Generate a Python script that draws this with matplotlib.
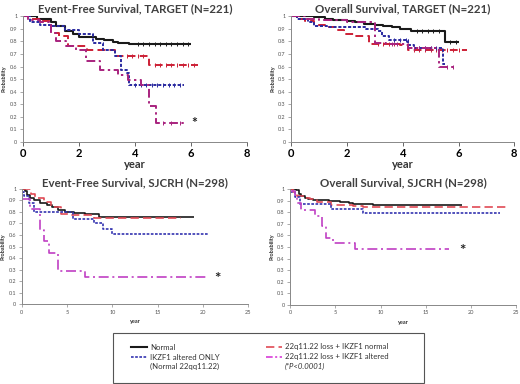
import numpy as np
import matplotlib
matplotlib.use("Agg")
import matplotlib.pyplot as plt
from matplotlib.lines import Line2D

plt.rcParams['font.family'] = ['Lato', 'DejaVu Sans']

# ---- data: Kaplan-Meier steps (time of drop, survival after drop), last follow-up time ----
# TARGET event-free survival
tef_normal_t = [0, 0.5, 1.0, 1.2, 1.5, 1.8, 2.0, 2.6, 2.9, 3.2, 3.4, 3.8]
tef_normal_s = [1.0, 0.98, 0.95, 0.92, 0.88, 0.855, 0.835, 0.82, 0.81, 0.795, 0.785, 0.775]
tef_normal_end = 6.0
tef_normal_cens = [4.1, 4.3, 4.5, 4.7, 4.9, 5.1, 5.3, 5.5, 5.7, 5.9]

tef_loss_t = [0, 0.3, 0.7, 1.0, 1.3, 1.6, 2.3, 3.3, 4.5]
tef_loss_s = [1.0, 0.98, 0.96, 0.87, 0.84, 0.76, 0.73, 0.68, 0.61]
tef_loss_end = 6.25
tef_loss_cens = [3.7, 3.9, 4.1, 4.3, 4.7, 4.9, 5.1, 5.3, 5.5, 5.7, 5.9, 6.1]

tef_ikzf_t = [0, 0.25, 0.6, 1.0, 1.5, 2.0, 2.5, 2.85, 3.3, 3.5, 3.7, 3.8]
tef_ikzf_s = [1.0, 0.95, 0.93, 0.92, 0.89, 0.86, 0.79, 0.73, 0.68, 0.57, 0.55, 0.45]
tef_ikzf_end = 5.75
tef_ikzf_cens = [4.0, 4.2, 4.4, 4.6, 4.8, 5.0, 5.2, 5.4, 5.6]

tef_both_t = [0, 0.2, 0.6, 1.0, 1.2, 1.55, 1.9, 2.25, 2.75, 3.4, 3.75, 4.2, 4.5, 4.75]
tef_both_s = [1.0, 0.97, 0.95, 0.87, 0.80, 0.76, 0.73, 0.64, 0.57, 0.53, 0.49, 0.45, 0.29, 0.15]
tef_both_end = 5.75
tef_both_cens = [5.0, 5.3, 5.6]

# TARGET overall survival
tos_normal_t = [0, 0.8, 1.2, 1.5, 2.0, 2.3, 2.6, 3.0, 3.3, 3.6, 3.9, 4.3, 5.5]
tos_normal_s = [1.0, 0.99, 0.98, 0.97, 0.96, 0.95, 0.94, 0.93, 0.92, 0.91, 0.90, 0.885, 0.795]
tos_normal_end = 6.0
tos_normal_cens = [4.5, 4.7, 4.9, 5.1, 5.3, 5.7, 5.9]

tos_loss_t = [0, 0.2, 0.5, 0.8, 1.2, 1.6, 1.9, 2.3, 2.8, 3.9, 4.2]
tos_loss_s = [1.0, 0.98, 0.96, 0.93, 0.91, 0.89, 0.86, 0.84, 0.78, 0.77, 0.73]
tos_loss_end = 6.3
tos_loss_cens = [3.1, 3.3, 3.5, 3.7, 4.4, 4.6, 4.8, 5.0, 5.2, 5.4, 5.6, 5.8, 6.0]

tos_ikzf_t = [0, 0.2, 0.6, 0.8, 1.3, 2.7, 3.1, 3.25, 3.5, 4.2, 4.4, 5.45]
tos_ikzf_s = [1.0, 0.98, 0.95, 0.92, 0.91, 0.90, 0.88, 0.84, 0.81, 0.77, 0.75, 0.62]
tos_ikzf_end = 5.5
tos_ikzf_cens = [3.7, 3.9, 4.1, 4.6, 4.8, 5.0, 5.2]

tos_both_t = [0, 0.5, 1.0, 2.0, 3.0, 3.4, 4.2, 5.3]
tos_both_s = [1.0, 0.98, 0.97, 0.95, 0.79, 0.78, 0.75, 0.60]
tos_both_end = 5.9
tos_both_cens = [3.6, 3.8, 4.4, 4.6, 4.8, 5.0, 5.6, 5.8]

# SJCRH event-free survival
sef_normal_t = [0, 0.3, 0.6, 0.9, 1.3, 2.0, 2.8, 3.3, 4.0, 4.8, 5.8, 7.0, 8.5]
sef_normal_s = [1.0, 0.98, 0.95, 0.92, 0.90, 0.88, 0.86, 0.84, 0.82, 0.80, 0.79, 0.78, 0.76]
sef_normal_end = 19.0

sef_loss_t = [0, 1.0, 1.5, 2.5, 3.2, 4.3, 5.5, 8.0]
sef_loss_s = [1.0, 0.96, 0.92, 0.89, 0.84, 0.78, 0.77, 0.75]
sef_loss_end = 17.6

sef_ikzf_t = [0, 0.2, 0.8, 1.3, 5.7, 8.0, 9.0, 10.0]
sef_ikzf_s = [0.97, 0.94, 0.88, 0.80, 0.74, 0.70, 0.65, 0.61]
sef_ikzf_end = 20.6

sef_both_t = [0, 0.9, 2.0, 2.5, 3.0, 4.0, 7.0]
sef_both_s = [0.91, 0.83, 0.64, 0.55, 0.44, 0.29, 0.235]
sef_both_end = 20.6

# SJCRH overall survival
sos_normal_t = [0, 0.6, 1.0, 1.2, 1.6, 2.0, 2.5, 4.3, 5.5, 6.5, 7.0, 9.2]
sos_normal_s = [1.0, 0.99, 0.96, 0.94, 0.92, 0.91, 0.905, 0.895, 0.885, 0.875, 0.87, 0.865]
sos_normal_end = 19.0

sos_loss_t = [0, 0.3, 0.8, 1.5, 2.2, 3.0, 4.5, 7.0, 8.0]
sos_loss_s = [1.0, 0.97, 0.94, 0.92, 0.91, 0.89, 0.86, 0.85, 0.84]
sos_loss_end = 24.0

sos_ikzf_t = [0, 0.5, 1.1, 4.5, 8.0]
sos_ikzf_s = [0.97, 0.93, 0.87, 0.83, 0.79]
sos_ikzf_end = 23.2

sos_both_t = [0, 0.5, 0.8, 1.2, 2.8, 3.5, 4.0, 4.7, 7.2]
sos_both_s = [0.98, 0.95, 0.88, 0.82, 0.77, 0.68, 0.58, 0.53, 0.48]
sos_both_end = 17.5

labels = ["Normal", "IKZF1 altered ONLY",
          "22q11.22 loss + IKZF1 normal", "22q11.22 loss + IKZF1 altered"]
label_extra = ["(Normal 22qq11.22)", "(*P<0.0001)"]
prob_ticks = [0, 0.1, 0.2, 0.3, 0.4, 0.5, 0.6, 0.7, 0.8, 0.9, 1]
prob_labels = ["0", "0.1", "0.2", "0.3", "0.4", "0.5", "0.6", "0.7", "0.8", "0.9", "1"]

# ---- styles ----
tgt = {
    'normal': dict(color='#1a1a1a', lw=1.5, ls='-'),
    'ikzf': dict(color='#2a2aa0', lw=1.4, ls=(0, (1.6, 0.9))),
    'loss': dict(color='#cc1f35', lw=1.4, ls=(0, (4, 2.2))),
    'both': dict(color='#a8227e', lw=1.4, ls=(0, (4.5, 1.8, 1.2, 1.8))),
}
sj = {
    'normal': dict(color='#1a1a1a', lw=1.2, ls='-'),
    'ikzf': dict(color='#3434b0', lw=1.2, ls=(0, (1.6, 0.9))),
    'loss': dict(color='#e04a55', lw=1.2, ls=(0, (5, 2.5))),
    'both': dict(color='#c040c4', lw=1.2, ls=(0, (6, 2.2, 1.2, 2.2))),
}


def km(ax, t, s, end, style, cens=None):
    tt = list(t) + [end]
    ss = list(s) + [s[-1]]
    ax.plot(tt, ss, drawstyle='steps-post', color=style['color'],
            lw=style['lw'], linestyle=style['ls'], solid_capstyle='butt')
    if cens:
        idx = np.searchsorted(t, cens, side='right') - 1
        ax.plot(cens, np.array(s)[idx], linestyle='none', marker='|',
                markersize=2.8, mew=0.7, color=style['color'])


def setup(ax, title, xmax, xstep, big):
    ax.set_xlim(0, xmax)
    ax.set_ylim(0, 1)
    for side in ['top', 'right']:
        ax.spines[side].set_visible(False)
    for side in ['left', 'bottom']:
        ax.spines[side].set_color('#888888')
        ax.spines[side].set_linewidth(0.7)
    ax.set_yticks(prob_ticks)
    ax.set_yticklabels(prob_labels)
    ax.set_xticks(np.arange(0, xmax + 0.1, xstep))
    ax.tick_params(axis='y', labelsize=4, length=2, width=0.5, color='#888888',
                   labelcolor='#555555', pad=2)
    ax.set_ylabel("Probability", fontsize=4, fontweight='bold', labelpad=2, color='#333333')
    if big:
        ax.tick_params(axis='x', labelsize=8, length=3, width=0.7, color='#666666', pad=1.5)
        for lab in ax.get_xticklabels():
            lab.set_fontweight('bold')
        ax.set_xlabel("year", fontsize=8, fontweight='bold', labelpad=0, color='#333333')
        ax.set_title(title, fontsize=8.3, fontweight='bold', color='#404040', pad=3)
    else:
        ax.tick_params(axis='x', labelsize=4, length=2, width=0.5, color='#888888',
                       labelcolor='#555555', pad=2)
        ax.set_xlabel("year", fontsize=4, fontweight='bold', labelpad=3, color='#333333')
        ax.set_title(title, fontsize=8.3, fontweight='bold', color='#404040', pad=2)


fig = plt.figure(figsize=(5.2, 3.84), dpi=100)
ax1 = fig.add_axes([0.044, 0.630, 0.431, 0.328])
ax2 = fig.add_axes([0.560, 0.630, 0.429, 0.328])
ax3 = fig.add_axes([0.042, 0.208, 0.435, 0.300])
ax4 = fig.add_axes([0.558, 0.206, 0.435, 0.302])

setup(ax1, "Event-Free Survival, TARGET (N=221)", 8, 2, True)
km(ax1, tef_normal_t, tef_normal_s, tef_normal_end, tgt['normal'], tef_normal_cens)
km(ax1, tef_loss_t, tef_loss_s, tef_loss_end, tgt['loss'], tef_loss_cens)
km(ax1, tef_ikzf_t, tef_ikzf_s, tef_ikzf_end, tgt['ikzf'], tef_ikzf_cens)
km(ax1, tef_both_t, tef_both_s, tef_both_end, tgt['both'], tef_both_cens)
ax1.text(6.0, 0.15, "*", fontsize=10, fontweight='bold', color='#222222', va='center')

setup(ax2, "Overall Survival, TARGET (N=221)", 8, 2, True)
km(ax2, tos_normal_t, tos_normal_s, tos_normal_end, tgt['normal'], tos_normal_cens)
km(ax2, tos_loss_t, tos_loss_s, tos_loss_end, tgt['loss'], tos_loss_cens)
km(ax2, tos_ikzf_t, tos_ikzf_s, tos_ikzf_end, tgt['ikzf'], tos_ikzf_cens)
km(ax2, tos_both_t, tos_both_s, tos_both_end, tgt['both'], tos_both_cens)

setup(ax3, "Event-Free Survival, SJCRH (N=298)", 25, 5, False)
km(ax3, sef_normal_t, sef_normal_s, sef_normal_end, sj['normal'])
km(ax3, sef_loss_t, sef_loss_s, sef_loss_end, sj['loss'])
km(ax3, sef_ikzf_t, sef_ikzf_s, sef_ikzf_end, sj['ikzf'])
km(ax3, sef_both_t, sef_both_s, sef_both_end, sj['both'])
ax3.text(21.3, 0.215, "*", fontsize=11, fontweight='bold', color='#222222', va='center')

setup(ax4, "Overall Survival, SJCRH (N=298)", 25, 5, False)
km(ax4, sos_normal_t, sos_normal_s, sos_normal_end, sj['normal'])
km(ax4, sos_loss_t, sos_loss_s, sos_loss_end, sj['loss'])
km(ax4, sos_ikzf_t, sos_ikzf_s, sos_ikzf_end, sj['ikzf'])
km(ax4, sos_both_t, sos_both_s, sos_both_end, sj['both'])
ax4.text(18.7, 0.465, "*", fontsize=11, fontweight='bold', color='#222222', va='center')

# ---- legend box ----
box = plt.Rectangle((113 / 520, 1 - 383 / 384), 311 / 520, 50 / 384, transform=fig.transFigure,
                    fill=False, edgecolor='#555555', lw=0.8)
fig.add_artist(box)
leg_styles = [tgt['normal'], sj['ikzf'], sj['loss'], dict(color='#d83cd8', lw=1.2, ls=(0, (4, 1.5, 1.2, 1.5)))]
leg_pos = [(131, 347), (131, 357), (266, 347), (266, 357)]
for lab, st, (px, py) in zip(labels, leg_styles, leg_pos):
    y = 1 - py / 384
    fig.add_artist(Line2D([px / 520, (px + 16) / 520], [y, y], transform=fig.transFigure,
                          color=st['color'], lw=st['lw'], linestyle=st['ls']))
    fig.text((px + 19) / 520, y, lab, fontsize=5.6, color='#333333', va='center')
fig.text(150 / 520, 1 - 366.5 / 384, label_extra[0], fontsize=5.6, color='#333333', va='center')
fig.text(285 / 520, 1 - 366.5 / 384, label_extra[1], fontsize=5.6, style='italic',
         color='#333333', va='center')

fig.savefig("out.png", dpi=100)
